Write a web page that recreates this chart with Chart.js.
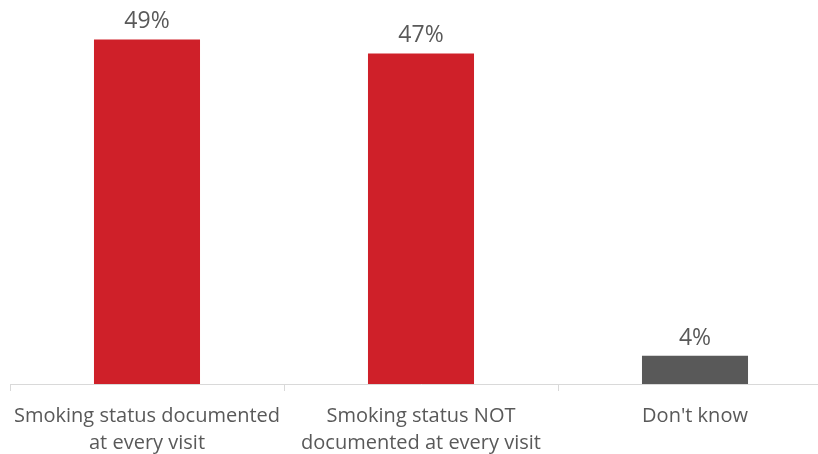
<!DOCTYPE html>
<html>
<head>
<meta charset="utf-8">
<script src="https://cdn.jsdelivr.net/npm/chart.js@4"></script>
<style>
  html, body { margin: 0; padding: 0; background: #fff; overflow: hidden; }
  #wrap { width: 842px; height: 454px; }
</style>
</head>
<body>
<div id="wrap"><canvas id="barChart"></canvas></div>
<script>
var categories = [
    ['Smoking status documented', 'at every visit'],
    ['Smoking status NOT', 'documented at every visit'],
    "Don't know"
];
var percents = [49, 47, 4];
var barColors = ['#CF2029', '#CF2029', '#595959'];

// value labels drawn just above each bar
var valueLabels = {
    id: 'valueLabels',
    afterDatasetsDraw: function (chart) {
        var c = chart.ctx;
        var meta = chart.getDatasetMeta(0);
        c.save();
        c.font = '23px "Open Sans", sans-serif';
        c.fillStyle = '#595959';
        c.textAlign = 'center';
        c.textBaseline = 'bottom';
        meta.data.forEach(function (bar, i) {
            c.fillText(percents[i] + '%', bar.x, bar.y - 6);
        });
        c.restore();
    }
};

var ctx = document.getElementById('barChart').getContext('2d');
var barChart = new Chart(ctx, {
    type: 'bar',
    data: {
        labels: categories,
        datasets: [{
            data: percents,
            backgroundColor: barColors,
            borderWidth: 0,
            categoryPercentage: 1,
            barPercentage: 0.387
        }]
    },
    options: {
        responsive: true,
        maintainAspectRatio: false,
        animation: false,
        layout: { padding: { left: 10, right: 10, top: 0, bottom: 0 } },
        plugins: { legend: { display: false }, tooltip: { enabled: false } },
        scales: {
            x: {
                grid: {
                    offset: true,
                    drawOnChartArea: false,
                    color: '#D9D9D9',
                    tickLength: 7
                },
                border: { color: '#D9D9D9' },
                ticks: {
                    color: '#595959',
                    font: { family: '"Open Sans", sans-serif', size: 20, lineHeight: 1.35 },
                    padding: 12,
                    maxRotation: 0,
                    autoSkip: false
                },
                afterFit: function (scale) { scale.height = 70; }
            },
            y: {
                display: false,
                min: 0,
                max: 54.6
            }
        }
    },
    plugins: [valueLabels]
});
</script>
</body>
</html>
